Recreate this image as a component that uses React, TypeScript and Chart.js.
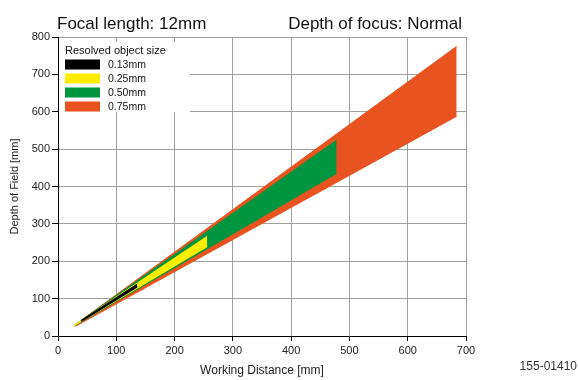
import React, { useEffect, useRef } from "react";
import { Chart, registerables } from "chart.js";

Chart.register(...registerables);

// Resolved object size bands: working distance (x) with far (upper) and near (lower) limits
const sizeLabels = ["0.13mm", "0.25mm", "0.50mm", "0.75mm"];
const sizeColors = ["#000000", "#ffed00", "#00963f", "#e9531f"];

const wd013 = [40, 136];
const far013 = [42, 139];
const near013 = [39, 131];

const wd025 = [27, 256];
const far025 = [28, 267];
const near025 = [27, 239];

const wd050 = [28, 478];
const far050 = [29, 524];
const near050 = [27, 435];

const wd075 = [30, 684];
const far075 = [31, 775];
const near075 = [26, 588];

const xTickStep = 100;
const yTickStep = 100;
const xRange = [0, 700];
const yRange = [0, 800];

const titleLeft = "Focal length: 12mm";
const titleRight = "Depth of focus: Normal";
const legendTitle = "Resolved object size";
const xTitle = "Working Distance [mm]";
const yTitle = "Depth of Field [mm]";
const docId = "155-01410";

const FONT = "'Liberation Sans', Arial, Helvetica, sans-serif";

function pts(xs: number[], ys: number[]) {
  return xs.map((x, i) => ({ x, y: ys[i] }));
}

const bands = [
  { x: wd013, up: far013, lo: near013 },
  { x: wd025, up: far025, lo: near025 },
  { x: wd050, up: far050, lo: near050 },
  { x: wd075, up: far075, lo: near075 },
];

const decorPlugin = {
  id: "decor",
  afterDraw(chart: any) {
    const ctx = chart.ctx;
    const area = chart.chartArea;
    ctx.save();
    // titles
    ctx.fillStyle = "#111";
    ctx.font = `17px ${FONT}`;
    ctx.textBaseline = "alphabetic";
    ctx.textAlign = "left";
    ctx.fillText(titleLeft, 57, 29);
    ctx.textAlign = "right";
    ctx.fillText(titleRight, 462, 29);

    // doc id
    ctx.font = `12px ${FONT}`;
    ctx.fillStyle = "#333";
    ctx.textAlign = "right";
    ctx.textBaseline = "middle";
    ctx.fillText(docId, 577, 367);

    // legend box
    const lx = area.left + 1;
    const ly = 42;
    ctx.fillStyle = "#ffffff";
    ctx.fillRect(lx, ly, 190 - lx, 112 - ly);
    ctx.fillStyle = "#111";
    ctx.textAlign = "left";
    ctx.textBaseline = "middle";
    ctx.font = `11px ${FONT}`;
    ctx.fillText(legendTitle, 65, 50.5);
    ctx.font = `10.5px ${FONT}`;
    sizeLabels.forEach((lab, i) => {
      const cy = 64.5 + i * 14;
      ctx.fillStyle = sizeColors[i];
      ctx.fillRect(65, cy - 5, 35, 10);
      ctx.fillStyle = "#111";
      ctx.fillText(lab, 108, cy + 0.5);
    });
    ctx.restore();
  },
};

export default function App() {
  const ref = useRef<HTMLCanvasElement | null>(null);

  useEffect(() => {
    if (!ref.current) return;
    const datasets: any[] = [];
    bands.forEach((b, i) => {
      datasets.push({
        label: sizeLabels[i] + " far",
        data: pts(b.x, b.up),
        borderColor: sizeColors[i],
        backgroundColor: sizeColors[i],
        borderWidth: 1,
        pointRadius: 0,
        fill: "+1",
        tension: 0,
      });
      datasets.push({
        label: sizeLabels[i] + " near",
        data: pts(b.x, b.lo),
        borderColor: sizeColors[i],
        backgroundColor: sizeColors[i],
        borderWidth: 1,
        pointRadius: 0,
        fill: false,
        tension: 0,
      });
    });

    const chart = new Chart(ref.current, {
      type: "line",
      data: { datasets },
      options: {
        animation: false,
        responsive: false,
        maintainAspectRatio: false,
        devicePixelRatio: 1,
        layout: { padding: { left: 0, right: 112, top: 37, bottom: 0 } },
        plugins: {
          legend: { display: false },
          title: { display: false },
          tooltip: { enabled: false },
        },
        scales: {
          x: {
            type: "linear",
            min: xRange[0],
            max: xRange[1],
            ticks: {
              stepSize: xTickStep,
              color: "#222",
              font: { family: FONT, size: 11 },
              padding: 3,
              maxRotation: 0,
            },
            grid: {
              color: "#a0a0a0",
              lineWidth: 1,
              tickColor: "#000",
              tickLength: 5,
            },
            border: { color: "#000", width: 1 },
            title: {
              display: true,
              text: xTitle,
              color: "#222",
              font: { family: FONT, size: 12 },
              padding: { top: 0, bottom: 2 },
            },
            afterFit: (s: any) => {
              s.height = 44;
            },
          },
          y: {
            type: "linear",
            min: yRange[0],
            max: yRange[1],
            ticks: {
              stepSize: yTickStep,
              color: "#222",
              font: { family: FONT, size: 11 },
              padding: 2,
            },
            grid: {
              color: "#a0a0a0",
              lineWidth: 1,
              tickColor: "#000",
              tickLength: 6,
            },
            border: { color: "#000", width: 1 },
            title: {
              display: true,
              text: yTitle,
              color: "#222",
              font: { family: FONT, size: 11 },
              padding: { top: 8, bottom: 0 },
            },
            afterFit: (s: any) => {
              s.width = 58;
            },
          },
        },
      },
      plugins: [decorPlugin],
    } as any);
    return () => chart.destroy();
  }, []);

  return (
    <div style={{ position: "absolute", left: 0, top: 0, width: 578, height: 380, background: "#fff" }}>
      <canvas ref={ref} width={578} height={380} style={{ width: 578, height: 380, display: "block" }} />
    </div>
  );
}
